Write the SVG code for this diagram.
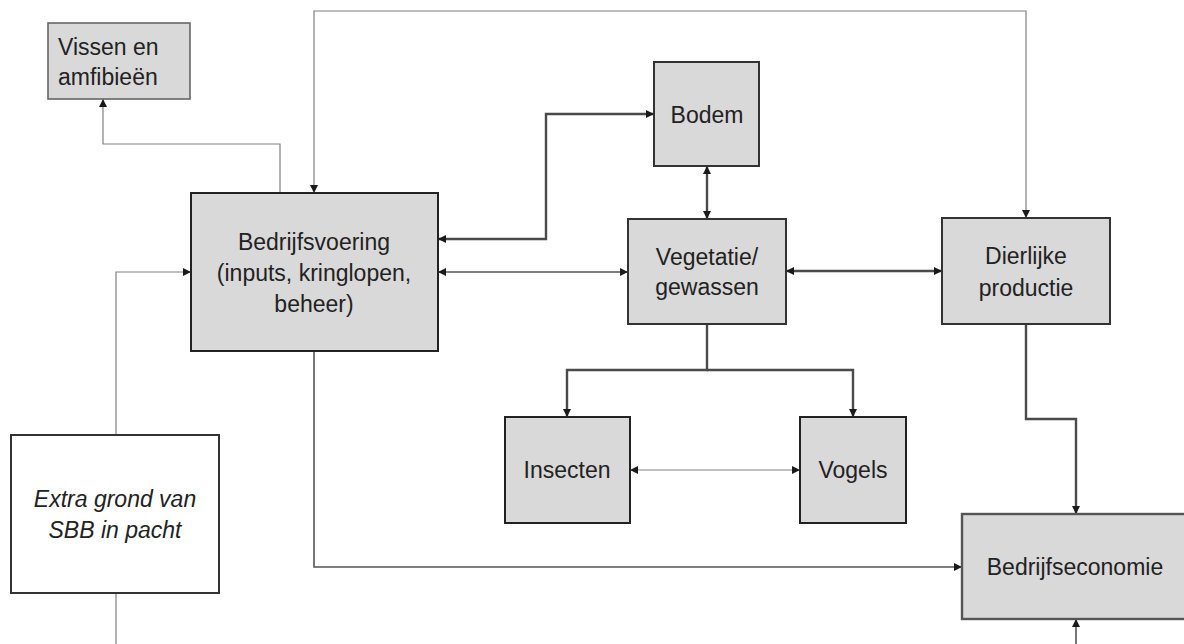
<svg xmlns="http://www.w3.org/2000/svg" width="1184" height="644" viewBox="0 0 1184 644">
<style>
.box{fill:#d9d9d9;stroke:#333;stroke-width:2}
.soft{stroke:#666;stroke-width:1.6}
.white{fill:#fff;stroke:#333;stroke-width:2}
.t{font-family:"Liberation Sans",Arial,sans-serif;font-size:23px;fill:#222;text-anchor:middle}
.ti{font-style:italic}
.c{fill:none}
.thin{stroke:#808080;stroke-width:1.2}
.med{stroke:#555;stroke-width:1.6}
.thick{stroke:#4a4a4a;stroke-width:2.4}
</style>
<defs>
<marker id="ah" viewBox="0 0 10 10" refX="10" refY="5" markerWidth="9" markerHeight="8" markerUnits="userSpaceOnUse" orient="auto-start-reverse">
<path d="M0,0 L10,5 L0,10 z" fill="#1a1a1a"/>
</marker>
</defs>
<rect width="1184" height="644" fill="#fff"/>
<g id="connectors">
<path class="c thin" d="M314,193 V11 H1026 V218" marker-start="url(#ah)" marker-end="url(#ah)"/>
<path class="c thin" d="M280,193 V144 H103 V99" marker-end="url(#ah)"/>
<path class="c thick" d="M438,239 H546 V114 H654" marker-start="url(#ah)" marker-end="url(#ah)"/>
<path class="c med" d="M438,272 H628" marker-start="url(#ah)" marker-end="url(#ah)"/>
<path class="c thick" d="M707,166 V219" marker-start="url(#ah)" marker-end="url(#ah)"/>
<path class="c thick" d="M786,271 H942" marker-start="url(#ah)" marker-end="url(#ah)"/>
<path class="c thick" d="M707,324 V370 H567 V417" marker-end="url(#ah)"/>
<path class="c thick" d="M707,370 H853 V417" marker-end="url(#ah)"/>
<path class="c thin" d="M630,470 H800" marker-start="url(#ah)" marker-end="url(#ah)"/>
<path class="c thick" d="M1026,324 V419 H1076 V514" marker-end="url(#ah)"/>
<path class="c med" d="M314,351 V567 H962" marker-end="url(#ah)"/>
<path class="c thin" d="M116,435 V272 H191" marker-end="url(#ah)"/>
<path class="c thin" d="M116,593 V644"/>
<path class="c med" d="M1076,644 V619" marker-end="url(#ah)"/>
</g>
<g id="vissen">
<rect x="48" y="23" width="142" height="76" class="box soft"/>
<text class="t" x="58" y="55" style="text-anchor:start">Vissen en</text>
<text class="t" x="58" y="85" style="text-anchor:start">amfibieën</text>
</g>
<g id="bedrijfsvoering">
<rect x="191" y="193" width="247" height="158" class="box" style="stroke:#222"/>
<text class="t" x="314" y="250">Bedrijfsvoering</text>
<text class="t" x="314" y="281">(inputs, kringlopen,</text>
<text class="t" x="314" y="312">beheer)</text>
</g>
<g id="bodem">
<rect x="654" y="62" width="105" height="104" class="box"/>
<text class="t" x="707" y="123">Bodem</text>
</g>
<g id="vegetatie">
<rect x="628" y="219" width="158" height="105" class="box"/>
<text class="t" x="707" y="265">Vegetatie/</text>
<text class="t" x="707" y="295">gewassen</text>
</g>
<g id="dierlijke">
<rect x="942" y="218" width="168" height="106" class="box"/>
<text class="t" x="1026" y="264">Dierlijke</text>
<text class="t" x="1026" y="296">productie</text>
</g>
<g id="insecten">
<rect x="505" y="417" width="125" height="106" class="box" style="stroke:#222"/>
<text class="t" x="567" y="478">Insecten</text>
</g>
<g id="vogels">
<rect x="800" y="417" width="106" height="106" class="box" style="stroke:#222"/>
<text class="t" x="853" y="478">Vogels</text>
</g>
<g id="bedrijfseconomie">
<rect x="962" y="514" width="228" height="105" class="box" style="stroke:#555;stroke-width:2.4"/>
<text class="t" x="1075" y="575">Bedrijfseconomie</text>
</g>
<g id="extragrond">
<rect x="11" y="435" width="208" height="158" class="white"/>
<text class="t ti" x="115" y="507">Extra grond van</text>
<text class="t ti" x="115" y="538">SBB in pacht</text>
</g>
</svg>
